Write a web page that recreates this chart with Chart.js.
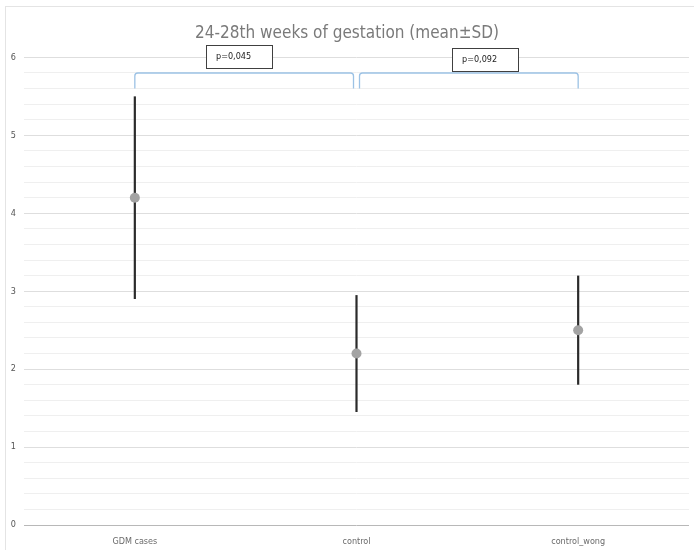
<!DOCTYPE html>
<html>
<head>
<meta charset="utf-8">
<script src="https://cdn.jsdelivr.net/npm/chart.js@4"></script>
<style>
  body { margin: 0; background: #fff; }
  #wrap { width: 694px; height: 550px; position: relative; }
</style>
</head>
<body>
<div id="wrap"><canvas id="myChart"></canvas></div>
<script>
const categories = ["GDM cases", "control", "control_wong"]
const means = [4.2, 2.2, 2.5]
const sdLow = [2.9, 1.45, 1.8]
const sdHigh = [5.5, 2.95, 3.2]

// significance brackets between neighbouring groups
const bracketFrom = [0, 1]
const bracketTo = [1, 2]
const bracketTop = [5.8, 5.8]
const bracketLegEnd = [5.6, 5.6]
const bracketLabel = ["p=0,045", "p=0,092"]
const bracketLabelX = [0.47, 1.58]
const bracketLabelY = [6.01, 5.97]

const fontName = "'Liberation Sans Narrow', 'DejaVu Sans Condensed', sans-serif"

const ctx = document.getElementById('myChart')

const frame = {
  id: 'frame',
  beforeDraw(chart) {
    const c = chart.ctx
    c.save()
    c.strokeStyle = '#e4e4e4'
    c.lineWidth = 1
    c.strokeRect(5.5, 6.5, 720, 600)
    c.restore()
  }
}

const errorBars = {
  id: 'errorBars',
  beforeDatasetsDraw(chart) {
    const c = chart.ctx
    const x = chart.scales.x
    const y = chart.scales.y
    c.save()
    c.strokeStyle = '#2b2b2b'
    c.lineWidth = 2.2
    for (let i = 0; i < categories.length; i++) {
      const px = x.getPixelForValue(i)
      c.beginPath()
      c.moveTo(px, y.getPixelForValue(sdHigh[i]))
      c.lineTo(px, y.getPixelForValue(sdLow[i]))
      c.stroke()
    }
    c.restore()
  }
}

const brackets = {
  id: 'brackets',
  afterDraw(chart) {
    const c = chart.ctx
    const x = chart.scales.x
    const y = chart.scales.y
    c.save()
    for (let b = 0; b < bracketLabel.length; b++) {
      const x1 = x.getPixelForValue(bracketFrom[b]) + (b > 0 ? 3 : 0)
      const x2 = x.getPixelForValue(bracketTo[b]) - (b < bracketLabel.length - 1 ? 3 : 0)
      const top = y.getPixelForValue(bracketTop[b])
      const leg = y.getPixelForValue(bracketLegEnd[b])
      c.strokeStyle = '#9cc2e5'
      c.lineWidth = 1.3
      c.beginPath()
      c.moveTo(x1, leg)
      c.lineTo(x1, top + 3)
      c.quadraticCurveTo(x1, top, x1 + 3, top)
      c.lineTo(x2 - 3, top)
      c.quadraticCurveTo(x2, top, x2, top + 3)
      c.lineTo(x2, leg)
      c.stroke()

      c.font = "9px " + fontName
      const w = 66, h = 23
      const cx = x.getPixelForValue(bracketLabelX[b])
      const cy = y.getPixelForValue(bracketLabelY[b])
      c.fillStyle = '#fff'
      c.fillRect(cx - w / 2, cy - h / 2, w, h)
      c.strokeStyle = '#404040'
      c.lineWidth = 1
      c.strokeRect(Math.round(cx - w / 2) + 0.5, Math.round(cy - h / 2) + 0.5, w, h)
      c.fillStyle = '#222'
      c.textAlign = 'left'
      c.textBaseline = 'middle'
      c.fillText(bracketLabel[b], Math.round(cx - w / 2) + 10, cy)
    }
    c.restore()
  }
}

new Chart(ctx, {
  type: 'line',
  data: {
    labels: categories,
    datasets: [{
      label: "mean",
      data: means,
      showLine: false,
      pointRadius: 5,
      pointHoverRadius: 5,
      pointBackgroundColor: '#a3a3a3',
      pointBorderColor: '#a3a3a3',
      pointBorderWidth: 0
    }]
  },
  options: {
    responsive: true,
    maintainAspectRatio: false,
    animation: false,
    layout: {
      padding: { left: 4, right: 4, bottom: 4, top: 0 }
    },
    plugins: {
      legend: { display: false },
      tooltip: { enabled: false },
      title: {
        display: true,
        text: "24-28th weeks of gestation (mean±SD)",
        color: '#7a7a7a',
        font: { family: fontName, size: 17, weight: 'normal' },
        padding: { top: 23, bottom: 14 }
      }
    },
    scales: {
      x: {
        offset: true,
        afterFit(scale) { scale.height = 21 },
        grid: { display: false, drawTicks: false },
        border: { display: false },
        ticks: {
          color: '#6a6a6a',
          font: { family: fontName, size: 9 },
          padding: 11
        }
      },
      y: {
        min: 0,
        max: 6,
        afterFit(scale) { scale.width = 20 },
        border: { display: false },
        grid: {
          drawTicks: false,
          color(c) {
            const v = c.tick.value
            if (Math.abs(v) < 1e-6) return '#b8b8b8'
            if (Math.abs(v - Math.round(v)) < 1e-6) return '#dedede'
            return '#efefef'
          }
        },
        ticks: {
          stepSize: 0.2,
          autoSkip: false,
          padding: 8,
          color: '#555',
          font: { family: fontName, size: 9 },
          callback(v) {
            return Math.abs(v - Math.round(v)) < 1e-6 ? Math.round(v) : ''
          }
        }
      }
    }
  },
  plugins: [frame, errorBars, brackets]
})
</script>
</body>
</html>
